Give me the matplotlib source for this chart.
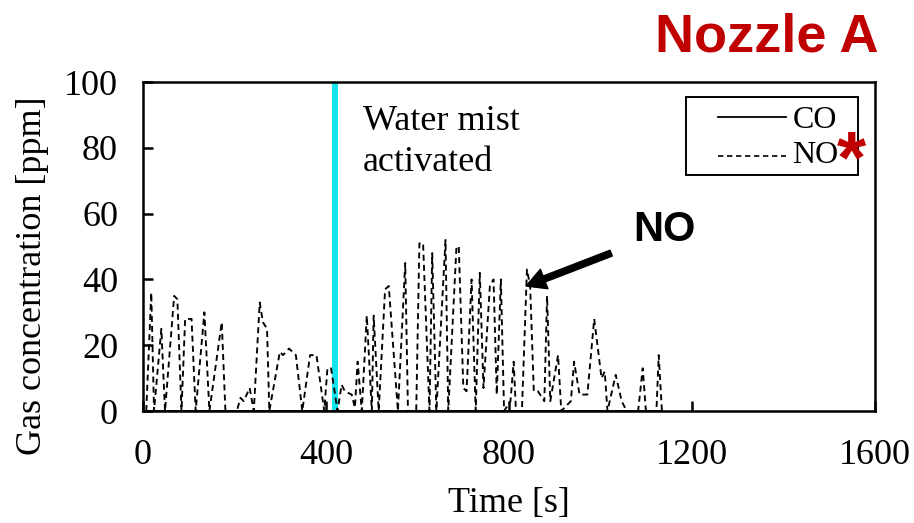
import matplotlib
matplotlib.use("Agg")
import matplotlib.pyplot as plt
from matplotlib.patches import Rectangle
from matplotlib.lines import Line2D

# NO concentration (time [s], ppm)
TIME = [7, 18, 24, 40, 48, 68, 75, 84, 92, 106, 115, 134, 145, 172, 180, 205,
        213, 220, 233, 242, 255, 262, 271, 276, 299, 306, 319, 334, 348, 365,
        379, 396, 403, 411, 425, 434, 441, 456, 463, 469, 478, 489, 500, 504,
        515, 529, 537, 557, 573, 579, 597, 604, 612, 626, 632, 641, 661, 667,
        685, 690, 700, 707, 718, 727, 736, 744, 758, 766, 773, 782, 789, 803,
        810, 815, 828, 839, 846, 854, 863, 877, 883, 890, 907, 914, 935, 942,
        954, 971, 986, 1002, 1009, 1015, 1033, 1046, 1057, 1082, 1092, 1099,
        1122, 1127, 1134]
NO = [0, 36, 0, 25, 0, 35, 34, 0, 28, 28, 0, 30, 0, 27, 0, 0,
      4, 3, 7, 0, 33, 27, 25, 0, 18, 17, 19, 17, 0, 17,
      17, 0, 13, 13, 0, 8, 6, 5, 1, 15, 0, 29, 0, 29,
      0, 37, 38, 0, 45, 0, 0, 51, 51, 0, 48, 0, 52, 0,
      50, 50, 7, 6, 40, 0, 42, 7, 38, 40, 5, 40, 0, 3,
      15, 0, 0, 43, 38, 6, 6, 3, 35, 3, 17, 0, 3, 15,
      5, 5, 28, 10, 12, 0, 11, 3, 0, 0, 13, 0,
      0, 17, 0]
CO = [0 for _ in TIME]
MIST_T = 420

XTICKS = [0, 400, 800, 1200, 1600]
YTICKS = [0, 20, 40, 60, 80, 100]

SERIF = "Liberation Serif"
SANS = "Liberation Sans"
RED = "#C00000"
NO_DASH = (0, (3.2, 2.2))

fig = plt.figure(figsize=(9.14, 5.23), dpi=100, facecolor="white")
ax = fig.add_axes([0.1565, 0.2141, 0.801, 0.629])

ax.plot(TIME, CO, color="black", lw=1.3, zorder=3)
ax.plot(TIME, NO, color="black", lw=1.35, linestyle=NO_DASH, zorder=3)
ax.axvline(MIST_T, color="#11E5EE", lw=4.3, zorder=2)

ax.set_xlim(0, 1600)
ax.set_ylim(0, 100)
ax.set_xticks(XTICKS)
ax.set_yticks(YTICKS)
ax.tick_params(direction="in", length=7, width=1.8, labelsize=26)
ax.tick_params(axis="x", pad=20)
ax.tick_params(axis="y", pad=18)
for lab in ax.get_xticklabels() + ax.get_yticklabels():
    lab.set_fontfamily(SERIF)
for sp in ax.spines.values():
    sp.set_linewidth(1.8)

ax.set_xlabel("Time [s]", fontsize=26, family=SERIF, labelpad=11)
ax.set_ylabel("Gas concentration [ppm]", fontsize=26, family=SERIF)
ax.yaxis.set_label_coords(-0.128, 0.41)

ax.text(480, 93, "Water mist\nactivated", fontsize=26, family=SERIF,
        va="top", ha="left", linespacing=1.3)

ax.annotate("", xy=(837, 38), xytext=(1023, 48),
            arrowprops=dict(width=4.5, headwidth=15, headlength=14,
                            color="black", shrink=0))
ax.text(1139, 55, "NO", fontsize=30, family=SANS, fontweight="bold",
        ha="center", va="center")

# legend box drawn by hand (axes fraction) to match the original framing
ax.add_patch(Rectangle((0.742, 0.717), 0.235, 0.237, transform=ax.transAxes,
                       facecolor="white", edgecolor="black", lw=1.4, zorder=5))
ax.add_line(Line2D([0.7855, 0.878], [0.894, 0.894], transform=ax.transAxes,
                   color="black", lw=1.3, zorder=6))
ax.add_line(Line2D([0.7855, 0.878], [0.775, 0.775], transform=ax.transAxes,
                   color="black", lw=1.2, linestyle=NO_DASH, zorder=6))
ax.text(0.887, 0.860, "CO", transform=ax.transAxes, fontsize=23, family=SERIF,
        ha="left", va="baseline", zorder=6)
ax.text(0.887, 0.754, "NO", transform=ax.transAxes, fontsize=23, family=SERIF,
        ha="left", va="baseline", zorder=6)

fig.text(0.931, 0.652, "*", fontsize=54, color=RED, family=SANS,
         fontweight="bold", ha="center", va="baseline")
fig.text(0.961, 0.929, "Nozzle A", fontsize=39, color=RED, family=SANS,
         fontweight="bold", ha="right", va="center")

fig.savefig("out.png", dpi=100, facecolor="white")
